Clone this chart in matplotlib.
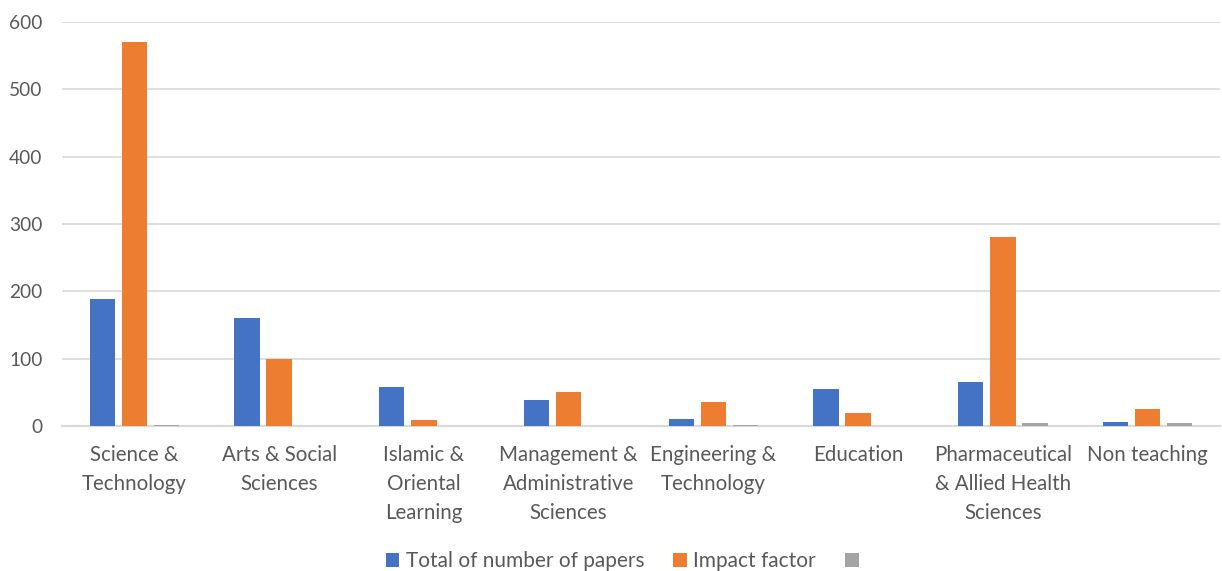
import matplotlib
matplotlib.use("Agg")
import matplotlib.pyplot as plt
import numpy as np
from matplotlib.patches import Patch

categories = ["Science &\nTechnology", "Arts & Social\nSciences", "Islamic &\nOriental\nLearning",
              "Management &\nAdministrative\nSciences", "Engineering &\nTechnology", "Education",
              "Pharmaceutical\n& Allied Health\nSciences", "Non teaching"]
total_papers = [188, 160, 58, 38, 10, 55, 66, 6]
impact_factor = [570, 100, 9, 50, 35, 20, 281, 25]
third_series = [2, 0, 0, 0, 2, 0, 4, 4]
series_labels = ["Total of number of papers", "Impact factor", " "]
colors = ["#4472C4", "#ED7D31", "#A5A5A5"]
yticks = [0, 100, 200, 300, 400, 500, 600]

plt.rcParams['font.family'] = ['Lato', 'DejaVu Sans']
text_color = "#595959"

fig = plt.figure(figsize=(12.22, 5.71), dpi=100)
ax = fig.add_axes([62/1222, 1-426/571, (1220-62)/1222, (426-22)/571])

x = np.arange(len(categories))
w = 1/5.73
off = 1.27 * w
for i, (vals, c) in enumerate(zip([total_papers, impact_factor, third_series], colors)):
    ax.bar(x + (i-1)*off, vals, width=w, color=c, zorder=3)

ax.set_xlim(-0.5, len(categories)-0.5)
ax.set_ylim(0, 600)
ax.set_yticks(yticks)
ax.set_yticklabels([str(t) for t in yticks], fontsize=13.8, color=text_color)
ax.set_xticks(x)
ax.set_xticklabels(categories, fontsize=14.8, color=text_color, linespacing=1.55, va='top')
ax.tick_params(axis='both', length=0)
ax.tick_params(axis='x', pad=14)
ax.tick_params(axis='y', pad=14)
ax.grid(axis='y', color="#D9D9D9", linewidth=1.2, zorder=0)
for s in ['left', 'right', 'top']:
    ax.spines[s].set_visible(False)
ax.spines['bottom'].set_color("#D9D9D9")
ax.spines['bottom'].set_linewidth(1.5)

handles = [Patch(facecolor=c) for c in colors]
fig.legend(handles, series_labels, loc='center', bbox_to_anchor=(628/1222, 1-561/571),
           ncol=3, frameon=False, fontsize=15, labelcolor=text_color,
           handlelength=0.65, handleheight=0.65, handletextpad=0.3, columnspacing=1.4)

fig.savefig("out.png", dpi=100)
